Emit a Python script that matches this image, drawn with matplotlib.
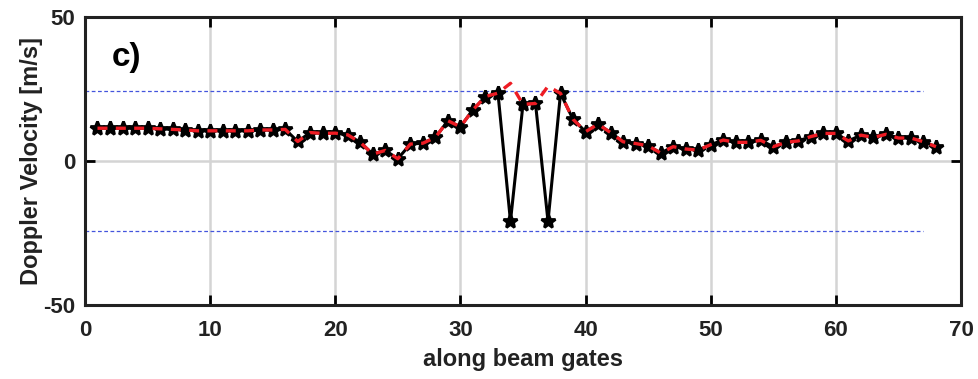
import numpy as np
import matplotlib
matplotlib.use("Agg")
import matplotlib.pyplot as plt

plt.rcParams["font.family"] = ["Liberation Sans", "DejaVu Sans"]
plt.rcParams["axes.unicode_minus"] = False

# ── Data ─────────────────────────────────────────────────────────────────────
gates = np.arange(1, 69)
measured = [
    11.4, 11.4, 11.4, 11.4, 11.4, 11.2, 11.0, 10.8, 10.5, 10.5,
    10.5, 10.5, 10.5, 10.8, 10.8, 11.0, 6.8, 9.9, 9.6, 9.7,
    9.1, 6.5, 2.4, 3.7, 0.8, 5.9, 6.2, 8.2, 14.0, 11.9,
    17.8, 22.4, 23.6, -20.9, 19.7, 20.0, -20.9, 23.5, 14.5, 10.2,
    12.8, 9.9, 6.7, 6.1, 5.3, 2.8, 5.0, 4.2, 3.8, 5.7,
    7.3, 6.5, 6.5, 7.2, 5.0, 6.5, 7.0, 8.5, 9.6, 9.6,
    7.0, 9.0, 8.2, 9.3, 8.0, 8.0, 6.7, 5.0,
]
unfolded = list(measured)
unfolded[33] = 27.0   # gate 34
unfolded[36] = 26.0   # gate 37
nyquist = 24.2
nyq_x = [0, 67]

# ── Plot ─────────────────────────────────────────────────────────────────────
fig = plt.figure(figsize=(9.79, 3.79), dpi=100)
ax = fig.add_axes([0.0868, 0.195, 0.8948, 0.760])

ax.plot(nyq_x, [nyquist, nyquist], color="#4455dd", linestyle=(0, (3, 2)), linewidth=0.9)
ax.plot(nyq_x, [-nyquist, -nyquist], color="#4455dd", linestyle=(0, (3, 2)), linewidth=0.9)
ax.plot(gates, measured, color="black", linewidth=2.2, marker="*", markersize=10,
        markeredgewidth=2, zorder=3)
ax.plot(gates, unfolded, color="#ee1c24", linewidth=2.4, linestyle=(0, (3, 2.5)), zorder=4)

ax.set_xlim(0, 70)
ax.set_ylim(-50, 50)
ax.set_xticks(np.arange(0, 71, 10))
ax.set_yticks([-50, 0, 50])
ax.grid(True, color="#d4d4d4", linewidth=1.8)
ax.set_axisbelow(True)
ax.tick_params(direction="in", length=7, width=2, labelsize=16, pad=7,
               top=True, right=True)
ax.tick_params(axis="x", pad=11)
for lab in ax.get_xticklabels() + ax.get_yticklabels():
    lab.set_fontweight("bold")
    lab.set_color("#222222")
for sp in ax.spines.values():
    sp.set_linewidth(2.2)
    sp.set_color("#222222")

ax.set_xlabel("along beam gates", fontsize=17, fontweight="bold", labelpad=5,
              color="#222222")
ax.set_ylabel("Doppler Velocity [m/s]", fontsize=17, fontweight="bold", labelpad=0,
              color="#222222")
ax.text(0.03, 0.83, "c)", transform=ax.transAxes, fontsize=24, fontweight="bold")

fig.savefig("out.png", dpi=100, facecolor="white")
